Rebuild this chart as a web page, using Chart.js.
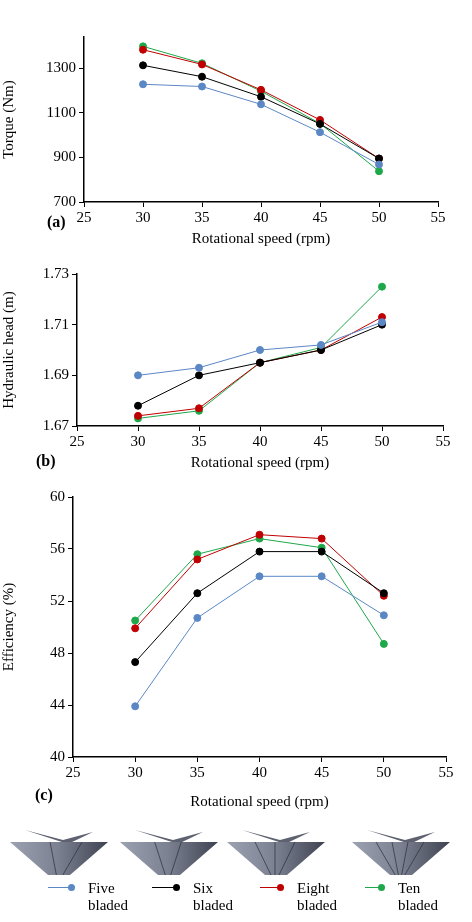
<!DOCTYPE html>
<html><head><meta charset="utf-8">
<script src="https://cdn.jsdelivr.net/npm/chart.js@4/dist/chart.umd.min.js"></script>
<style>
body{margin:0;width:472px;height:922px;background:#fff;position:relative;font-family:"Liberation Serif","DejaVu Serif",serif;overflow:hidden}
.c{position:absolute;left:0;width:472px}
.lab{position:absolute;font-weight:bold;font-size:16px}
.leg{position:absolute;top:880px;font-size:15px;line-height:17px}
.mk{position:absolute;top:887px;height:1px}
.dot{position:absolute;width:7px;height:7px;border-radius:50%;top:-3px;right:0}
</style></head><body>
<div class="c" style="top:25px;height:227px"><canvas id="a"></canvas></div>
<div class="c" style="top:262px;height:214px"><canvas id="b"></canvas></div>
<div class="c" style="top:485px;height:330px"><canvas id="c"></canvas></div>
<div class="lab" style="left:47px;top:213px">(a)</div>
<div class="lab" style="left:36px;top:452px">(b)</div>
<div class="lab" style="left:35px;top:786px">(c)</div>
<canvas id="img" width="472" height="60" style="position:absolute;left:0;top:830px"></canvas>
<div id="legend"></div>
<script>
const speeds=[30,35,40,45,50];
const seriesNames=["Five bladed","Six bladed","Eight bladed","Ten bladed"];
const colors=["#5b87c5","#000000","#c00000","#1ea84a"];
const torqueFive=[1228,1218,1138,1013,868];
const torqueSix=[1313,1262,1172,1050,895];
const torqueEight=[1383,1317,1203,1068,895];
const torqueTen=[1398,1322,1197,1052,838];
const headFive=[1.690,1.693,1.700,1.702,1.711];
const headSix=[1.678,1.690,1.695,1.700,1.710];
const headEight=[1.674,1.677,1.695,1.700,1.713];
const headTen=[1.673,1.676,1.695,1.701,1.725];
const effFive=[43.9,50.7,53.9,53.9,50.9];
const effSix=[47.3,52.6,55.8,55.8,52.6];
const effEight=[49.9,55.2,57.1,56.8,52.4];
const effTen=[50.5,55.6,56.8,56.1,48.7];
const xTicks=[25,30,35,40,45,50,55];

Chart.defaults.font.family='"Liberation Serif", serif';
Chart.defaults.color='#000';
function mk(id,sets,ytitle,yopt,yw,rp,tp,xh,ttp){
  new Chart(document.getElementById(id),{type:'line',
    data:{datasets:sets.map((s,i)=>({label:seriesNames[i],data:speeds.map((x,j)=>({x,y:s[j]})),
      borderColor:colors[i],backgroundColor:colors[i],borderWidth:1,pointRadius:3.5,pointHoverRadius:3.5,tension:0}))},
    options:{animation:false,responsive:true,maintainAspectRatio:false,
      layout:{padding:{top:tp,right:rp,left:0,bottom:0}},
      plugins:{legend:{display:false},tooltip:{enabled:false}},
      scales:{
        x:{type:'linear',min:25,max:55,afterBuildTicks:s=>{s.ticks=xTicks.map(v=>({value:v}))},
          afterFit:s=>{s.height=xh},
          grid:{drawOnChartArea:false,tickLength:5,color:'#000',tickColor:'#000'},
          border:{color:'#000',width:1.5},
          ticks:{font:{size:15},padding:2,maxRotation:0,callback:v=>String(v)},
          title:{display:true,text:'Rotational speed (rpm)',font:{size:15},padding:{top:ttp}}},
        y:Object.assign({afterFit:s=>{s.width=yw},
          grid:{drawOnChartArea:false,tickLength:5,color:'#000',tickColor:'#000'},
          border:{color:'#000',width:1.5},
          title:{display:true,text:ytitle,font:{size:15},padding:0}},yopt)
      }}});
}
mk('a',[torqueFive,torqueSix,torqueEight,torqueTen],'Torque (Nm)',
  {min:700,max:1440,afterBuildTicks:s=>{s.ticks=[700,900,1100,1300].map(v=>({value:v}))},ticks:{font:{size:15},padding:3,callback:v=>String(v)}},84,34,8,50,13);
mk('b',[headFive,headSix,headEight,headTen],'Hydraulic head (m)',
  {min:1.67,max:1.73,afterBuildTicks:s=>{s.ticks=[1.67,1.69,1.71,1.73].map(v=>({value:v}))},ticks:{font:{size:15},padding:3,callback:v=>v.toFixed(2)}},77,29,10,50,9);
mk('c',[effFive,effSix,effEight,effTen],'Efficiency (%)',
  {min:40,max:60,afterBuildTicks:s=>{s.ticks=[40,44,48,52,56,60].map(v=>({value:v}))},ticks:{font:{size:15},padding:3}},73,26,12,58,10);

const g=document.getElementById('img').getContext('2d');
function turbine(cx,n){
  g.fillStyle='#5d6170';
  g.beginPath();g.moveTo(cx-33,0);g.lineTo(cx+5,10);g.lineTo(cx+35,2);g.lineTo(cx+10,14);g.closePath();g.fill();
  const gr=g.createLinearGradient(cx-50,0,cx+50,0);
  gr.addColorStop(0,'#9ea3b3');gr.addColorStop(0.5,'#7c8192');gr.addColorStop(1,'#3e4250');
  g.fillStyle=gr;
  g.beginPath();g.moveTo(cx-48,12);g.lineTo(cx+50,12);g.lineTo(cx+12,45);g.lineTo(cx-10,45);g.closePath();g.fill();
  g.strokeStyle='#2a2d36';g.lineWidth=0.7;
  for(let k=1;k<n/2;k++){g.beginPath();g.moveTo(cx-40+k*80/(n/2),12);g.lineTo(cx-8+k*16/(n/2),45);g.stroke();}
}
turbine(58,5);turbine(168,6);turbine(275,8);turbine(400,10);

const lx=[[48,88],[152,193],[260,297],[365,398]];
const lg=document.getElementById('legend');
seriesNames.forEach((n,i)=>{
  const w=lx[i][1]-lx[i][0]-13;
  lg.innerHTML+=`<div class="mk" style="left:${lx[i][0]}px;width:${w}px;background:${colors[i]}"><div class="dot" style="background:${colors[i]}"></div></div>`+
   `<div class="leg" style="left:${lx[i][1]}px">${n.split(' ')[0]}<br>${n.split(' ')[1]}</div>`;
});
</script></body></html>
